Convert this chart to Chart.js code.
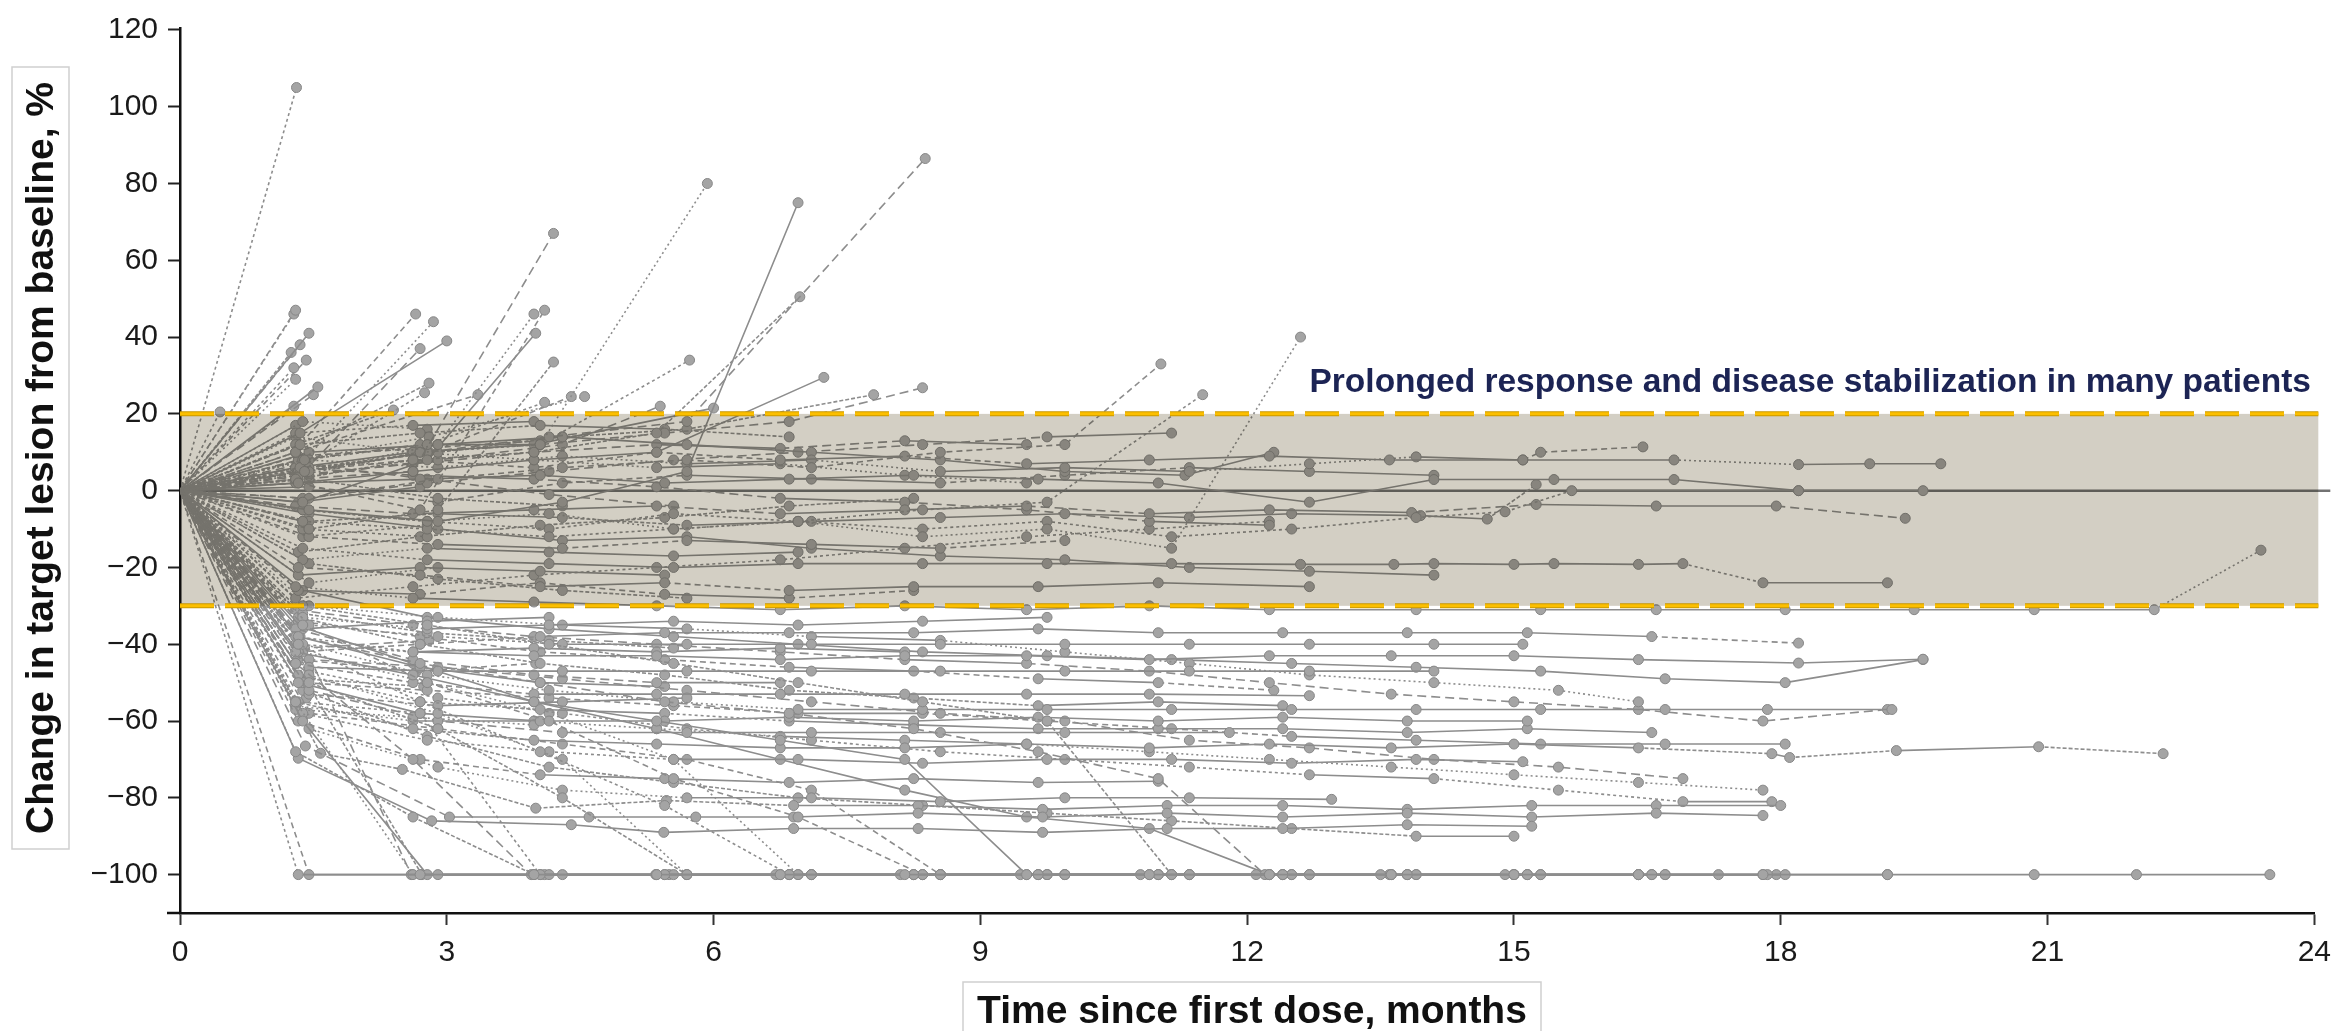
<!DOCTYPE html>
<html>
<head>
<meta charset="utf-8">
<script src="https://cdn.jsdelivr.net/npm/chart.js@4.4.1/dist/chart.umd.min.js"></script>
<style>
html, body { margin: 0; padding: 0; background: #fff; overflow: hidden; }
#wrap { width: 2341px; height: 1031px; position: relative; }
</style>
</head>
<body>
<div id="wrap"><canvas id="spider"></canvas></div>
<script>
// spider plot - change in target lesion over time, one line per patient

var xTicks = [0, 3, 6, 9, 12, 15, 18, 21, 24];
var yTicks = [-100, -80, -60, -40, -20, 0, 20, 40, 60, 80, 100, 120];
var bandLimits = [-30, 20];
var bandNote = 'Prolonged response and disease stabilization in many patients';

// [months, % change] per patient
var progressors = [
  [[0,0],[1.31,105]],
  [[0,0],[1.30,47]],
  [[0,0],[1.28,46]],
  [[0,0],[1.45,41]],
  [[0,0],[1.35,38]],
  [[0,0],[1.25,36]],
  [[0,0],[1.28,32]],
  [[0,0],[1.42,34]],
  [[0,0],[1.30,29]],
  [[0,0],[1.55,27]],
  [[0,0],[1.50,25]],
  [[0,0],[1.28,22]],
  [[0,0],[0.45,20.5]],
  [[0,0],[1.35,12],[2.65,46]],
  [[0,0],[1.40,8],[2.85,44]],
  [[0,0],[1.35,15],[3.00,39]],
  [[0,0],[1.40,5],[2.70,37]],
  [[0,0],[1.30,10],[2.80,28]],
  [[0,0],[1.35,6],[2.75,25.5]],
  [[0,0],[1.33,2],[2.70,-5],[4.10,47]],
  [[0,0],[1.45,5],[2.90,12],[3.98,46]],
  [[0,0],[1.38,-3],[2.78,8],[4.00,41]],
  [[0,0],[1.30,3],[2.62,5],[4.20,67]],
  [[0,0],[1.45,-10],[2.90,-5],[4.20,33.5]],
  [[0,0],[1.38,8],[2.78,12],[4.10,23]],
  [[0,0],[1.30,10],[3.35,25]],
  [[0,0],[1.33,4],[2.70,10],[4.05,12],[5.93,80]],
  [[0,0],[1.45,-5],[2.90,-8],[4.30,-3],[5.70,5],[6.95,75]],
  [[0,0],[1.38,5],[2.78,10],[4.15,14],[5.70,18],[8.38,86.5]],
  [[0,0],[1.30,3],[2.62,8],[3.98,10],[5.36,15],[6.97,50.5]],
  [[0,0],[1.33,5],[2.70,10],[4.05,12],[5.73,34]],
  [[0,0],[1.45,-2],[2.90,3],[4.30,6],[5.70,8],[7.10,6],[8.55,10],[9.95,12],[11.03,33]],
  [[0,0],[1.38,-5],[2.78,-8],[4.15,-6],[5.55,-10],[6.95,-8],[8.35,-12],[9.75,-10],[11.15,-15],[12.60,40]],
  [[0,0],[1.30,2],[2.62,5],[3.98,8],[5.36,10],[7.24,29.5]],
  [[0,0],[1.33,8],[2.70,12],[4.05,12],[5.45,15],[6.85,18],[8.35,26.8]],
  [[0,0],[1.45,6],[2.90,10],[4.30,14],[5.70,16],[7.80,25]],
  [[0,0],[1.38,-8],[2.78,-10],[4.15,-12],[5.55,-10],[6.95,-8],[8.35,-5],[9.75,-3],[11.50,25]],
  [[0,0],[1.40,5],[2.80,10],[4.40,24.5]],
  [[0,0],[1.35,8],[2.80,14],[4.55,24.5]],
  [[0,0],[1.30,6],[2.62,10],[3.98,12],[6.00,21.5]],
  [[0,0],[1.45,4],[2.90,8],[4.30,12],[5.40,22]],
  [[0,0],[1.30,12],[2.40,21]]
];

var stableDisease = [
  [[0,0],[1.38,-5],[2.78,-8],[4.15,-10],[5.55,-6],[6.95,-8],[8.35,-10],[9.75,-8],[11.15,-12],[12.50,-10],[13.90,-7],[14.90,-5.5],[15.65,0],[18.20,0],[19.60,0]],
  [[0,0],[1.30,5],[2.62,8],[3.98,6],[5.36,10],[6.75,8],[8.15,9],[9.52,7],[10.90,8],[12.25,9],[13.60,8],[15.10,8],[15.30,10],[16.45,11.4]],
  [[0,0],[1.45,8],[2.90,6],[4.30,9],[5.70,7],[7.10,8],[8.55,5],[9.95,6],[11.35,5],[12.70,7],[13.90,8.8],[15.10,8],[16.80,8],[18.20,6.8],[19.00,7],[19.80,7]],
  [[0,0],[1.33,2],[2.70,3],[4.05,4],[5.45,2],[6.85,3],[8.25,4],[9.65,3],[11.00,2],[12.70,-3],[14.10,2.9],[15.45,2.9],[16.80,2.9],[18.20,0]],
  [[0,0],[1.30,-4],[2.62,-6],[3.98,-5],[5.36,-4],[6.75,-6],[8.15,-5],[9.52,-4],[10.90,-6],[12.25,-5],[13.85,-5.7],[15.25,-3.6],[16.60,-4],[17.95,-4],[19.40,-7.2]],
  [[0,0],[1.45,-8],[2.90,-6],[4.30,-7],[5.70,-9],[7.10,-8],[8.55,-7],[9.95,-6],[11.35,-7],[12.50,-6],[13.95,-6.5],[14.70,-7.4],[15.25,1.6]],
  [[0,0],[1.38,-15],[2.78,-18],[4.15,-19],[5.55,-20],[6.95,-19],[8.35,-19],[9.75,-19],[11.15,-19],[12.60,-19.2],[13.65,-19.2],[14.10,-19],[15.00,-19.2],[15.45,-19],[16.40,-19.2],[16.90,-19],[17.80,-24],[19.20,-24]],
  [[0,0],[1.33,-20],[2.70,-22],[4.05,-25],[5.45,-24],[6.85,-26],[8.25,-25],[9.65,-25],[11.00,-24],[12.70,-25]],
  [[0,0],[1.30,-25],[2.62,-28],[3.98,-29],[5.36,-30],[6.75,-31],[8.15,-30],[9.52,-31],[10.90,-30],[12.25,-31],[13.90,-31],[15.30,-31],[16.60,-31],[18.05,-31],[19.50,-31],[20.85,-31],[22.20,-31],[23.40,-15.5]],
  [[0,0],[1.45,10],[2.90,12],[4.30,14],[5.70,12],[7.10,10],[8.55,8],[9.95,5],[11.30,4],[12.30,10]],
  [[0,0],[1.38,-2],[2.78,2],[4.15,5],[5.55,8],[6.95,10],[8.35,12],[9.75,14],[11.15,15]],
  [[0,0],[1.33,12],[2.70,15],[4.05,17],[5.45,16],[6.85,14]],
  [[0,0],[1.30,15],[2.62,17],[3.98,18]],
  [[0,0],[1.45,-12],[2.90,-14],[4.30,-15],[5.70,-13],[7.10,-14],[8.55,-15],[9.95,-13]],
  [[0,0],[1.38,-18],[2.78,-15],[4.15,-16],[5.55,-17],[6.95,-16]],
  [[0,0],[1.33,-22],[2.70,-20],[4.05,-21],[5.45,-22]],
  [[0,0],[1.30,6],[2.62,4],[3.98,3],[5.36,1],[6.75,-2],[8.15,-3],[9.52,-5],[10.90,-8],[12.25,-9]],
  [[0,0],[1.45,3],[2.90,-2],[4.30,-4]],
  [[0,0],[1.38,-10],[2.78,-12]],
  [[0,0],[1.33,-26],[2.70,-27],[4.05,-24],[5.45,-27],[6.85,-28],[8.25,-26]],
  [[0,0],[1.30,14],[2.62,10],[3.98,8],[5.36,6],[6.75,7],[8.15,4],[9.52,2]],
  [[0,0],[1.45,-6],[2.90,-10],[4.30,-13],[5.70,-12],[7.10,-15],[8.55,-17],[9.95,-18],[11.35,-20],[12.70,-21],[14.10,-22]],
  [[0,0],[1.38,7],[2.78,3],[4.15,-1],[5.55,-4]],
  [[0,0],[1.33,-16],[2.70,-12],[4.05,-9],[5.45,-7],[6.85,-4],[8.25,-2]],
  [[0,0],[1.30,-28],[2.62,-25],[3.98,-22],[5.36,-20],[6.75,-18],[8.15,-15],[9.52,-12],[10.90,-10],[12.25,-8]],
  [[0,0],[1.45,1],[2.90,-3],[4.30,2],[5.70,4],[7.10,3],[8.55,2],[9.95,4],[11.35,6],[12.70,5],[14.10,4]],
  [[0,0],[1.38,18],[2.78,16]],
  [[0,0],[1.33,-3],[2.70,1]],
  [[0,0],[1.30,4],[2.62,7],[3.98,10],[5.36,12],[6.75,11],[8.15,13],[9.52,12]],
  [[0,0],[1.45,-19],[2.90,-23],[4.30,-26],[5.70,-28]],
  [[0,0],[1.38,-12],[2.78,-9]],
  [[0,0],[1.33,9],[2.70,11],[4.05,13]],
  [[0,0],[1.45,-24],[2.90,-20]],
  [[0,0],[1.30,17]],
  [[0,0],[1.38,-8]]
];

var responders = [
  [[0,0],[1.30,-68],[2.62,-85],[3.98,-100],[5.36,-100],[6.75,-100],[8.15,-100],[9.52,-100],[10.90,-100],[12.25,-100],[13.62,-100],[15.00,-100],[16.40,-100],[17.80,-100],[19.20,-100],[20.85,-100],[22.00,-100],[23.50,-100]],
  [[0,0],[1.33,-100],[2.70,-100],[4.05,-100],[5.45,-100],[6.85,-100],[8.25,-100],[9.65,-100],[11.00,-100],[12.40,-100],[13.80,-100],[15.15,-100],[16.55,-100],[17.85,-100]],
  [[0,0],[1.45,-100],[2.90,-100],[4.30,-100],[5.70,-100],[7.10,-100],[8.55,-100],[9.95,-100],[11.35,-100],[12.70,-100]],
  [[0,0],[1.30,-55],[2.62,-100],[3.98,-100],[5.36,-100],[6.75,-100]],
  [[0,0],[1.38,-60],[2.78,-100],[4.15,-100],[5.55,-100],[6.95,-100],[8.35,-100],[9.75,-100],[11.15,-100],[12.50,-100],[13.90,-100],[15.30,-100],[16.70,-100],[18.05,-100]],
  [[0,0],[1.30,-45],[2.62,-70],[3.95,-100],[5.35,-100],[6.70,-100],[8.10,-100],[9.45,-100],[10.80,-100],[12.10,-100],[13.50,-100],[14.90,-100],[16.40,-100],[17.30,-100]],
  [[0,0],[1.45,-50],[2.90,-62],[4.30,-80],[5.70,-100],[7.10,-100],[8.55,-100],[9.95,-100],[11.35,-100]],
  [[0,0],[1.33,-40],[2.70,-55],[4.05,-68],[5.45,-82],[6.85,-100],[8.25,-100],[9.65,-100],[11.00,-100],[12.40,-100],[13.80,-100],[15.15,-100]],
  [[0,0],[1.38,-35],[2.78,-50],[4.15,-60],[5.55,-75],[6.95,-85],[8.35,-100],[9.75,-100],[11.15,-100],[12.50,-100],[13.90,-100],[15.30,-100],[16.70,-100]],
  [[0,0],[1.45,-48],[2.90,-58],[4.30,-70],[5.70,-100],[7.10,-100],[8.55,-100]],
  [[0,0],[1.30,-42],[2.62,-48],[3.98,-55],[5.36,-60],[6.75,-65],[8.15,-70],[9.52,-100],[10.90,-100],[12.25,-100],[13.62,-100],[15.00,-100],[16.40,-100],[17.80,-100],[19.20,-100]],
  [[0,0],[1.33,-38],[2.70,-45],[4.05,-50],[5.45,-55],[6.85,-58],[8.25,-62],[9.65,-68],[11.00,-75],[12.20,-100],[13.60,-100],[15.00,-100]],
  [[0,0],[1.38,-30],[2.78,-35],[4.15,-40],[5.55,-45],[6.95,-50],[8.35,-55],[9.75,-60],[11.15,-100]],
  [[0,0],[1.45,-35],[2.90,-38],[4.30,-40],[5.70,-40],[7.10,-40],[8.55,-40],[9.95,-40],[11.35,-40],[12.70,-40],[14.10,-40],[15.10,-40]],
  [[0,0],[1.30,-45],[2.62,-50],[3.98,-53],[5.36,-53],[6.75,-53],[8.15,-53],[9.52,-53],[10.90,-53],[12.70,-53.4]],
  [[0,0],[1.38,-40],[2.78,-48],[4.15,-52],[5.55,-55],[6.95,-57],[8.35,-57],[9.75,-57],[11.15,-57],[12.50,-57],[13.90,-57],[15.30,-57],[16.70,-57],[17.85,-57],[19.25,-57]],
  [[0,0],[1.33,-50],[2.70,-58],[4.05,-60],[5.45,-60],[6.85,-59],[8.25,-60],[9.65,-59],[11.00,-60],[12.40,-59],[13.80,-60],[15.15,-60]],
  [[0,0],[1.45,-52],[2.90,-60],[4.30,-63],[5.70,-63],[7.10,-63],[8.55,-63],[9.95,-63],[11.80,-63]],
  [[0,0],[1.30,-55],[2.62,-62],[3.98,-65],[5.36,-66],[6.75,-67],[8.15,-67],[9.52,-66],[10.90,-67],[12.25,-66],[13.62,-67],[15.00,-66],[16.40,-67],[17.90,-68.5],[18.10,-69.5],[19.30,-67.7],[20.90,-66.7],[22.30,-68.5]],
  [[0,0],[1.38,-58],[2.78,-65],[4.15,-68],[5.55,-70],[6.95,-70],[8.35,-71],[9.75,-70],[11.15,-70],[12.50,-71],[13.90,-70],[15.10,-70.6]],
  [[0,0],[1.33,-60],[2.70,-70],[4.05,-74],[5.45,-75],[6.85,-76],[8.25,-75],[9.65,-76],[11.00,-75.7]],
  [[0,0],[1.45,-62],[2.90,-72],[4.30,-78],[5.70,-80],[7.10,-80],[8.55,-81],[9.95,-80],[11.35,-80],[12.95,-80.4]],
  [[0,0],[1.33,-69.7],[2.83,-86],[4.40,-87],[5.44,-89],[6.90,-88],[8.30,-88],[9.70,-89],[11.10,-88],[12.40,-88],[13.80,-87],[15.20,-87.4]],
  [[0,0],[1.41,-66.5],[3.03,-85],[4.60,-85],[5.80,-85],[6.90,-85],[8.30,-84],[9.70,-85],[11.10,-84],[12.40,-85],[13.80,-84],[15.20,-85],[16.60,-84],[17.80,-84.6]],
  [[0,0],[1.58,-68.4],[2.50,-72.6],[4.00,-82.7],[5.47,-80.7],[6.90,-82],[8.30,-82],[9.70,-83],[11.10,-82],[12.40,-82],[13.80,-83],[15.20,-82],[16.60,-82],[18.00,-82]],
  [[0,0],[1.30,-38],[2.62,-42],[3.98,-43],[5.36,-43],[6.75,-44],[8.15,-43],[9.52,-43],[10.90,-44],[12.25,-43],[13.62,-43],[15.00,-43],[16.40,-44],[18.20,-44.9],[19.60,-43.9]],
  [[0,0],[1.33,-42],[2.70,-40],[4.05,-38],[5.45,-37],[6.85,-37],[8.25,-37],[9.65,-36],[11.00,-37],[12.40,-37],[13.80,-37],[15.15,-37],[16.55,-38],[18.20,-39.7]],
  [[0,0],[1.38,-33],[2.78,-36],[4.15,-35],[5.55,-34],[6.95,-35],[8.35,-34],[9.75,-33]],
  [[0,0],[1.45,-46],[2.90,-47],[4.30,-47],[5.70,-47],[7.10,-47],[8.55,-47],[9.95,-47],[11.35,-47],[12.70,-47],[14.10,-47]],
  [[0,0],[1.30,-36],[2.62,-44],[3.98,-48],[5.36,-50],[6.75,-50]],
  [[0,0],[1.38,-32],[2.78,-37],[4.15,-39],[5.55,-41]],
  [[0,0],[1.33,-48],[2.70,-55],[4.05,-57],[5.45,-58],[6.85,-60],[8.25,-61],[9.65,-62],[11.00,-62],[12.40,-62],[13.80,-63],[15.15,-62],[16.55,-63]],
  [[0,0],[1.45,-53],[2.90,-56],[4.30,-55],[5.70,-54]],
  [[0,0],[1.30,-57],[2.62,-59],[3.98,-61]],
  [[0,0],[1.38,-36],[2.78,-34],[4.15,-33]],
  [[0,0],[1.45,-44],[2.90,-46],[4.30,-49],[5.70,-52],[7.10,-55],[8.55,-58],[9.95,-60],[11.35,-65],[12.70,-67],[14.10,-70],[15.50,-72],[16.90,-75]],
  [[0,0],[1.33,-33],[2.70,-40],[4.05,-45],[5.45,-48],[6.85,-52],[8.25,-54],[9.65,-56],[11.00,-55],[12.40,-56]],
  [[0,0],[1.30,-40],[2.62,-42],[3.98,-41],[5.36,-42],[6.75,-41],[8.15,-42]],
  [[0,0],[1.38,-50],[2.78,-52],[4.15,-54],[5.55,-56],[6.95,-58],[8.35,-58],[9.75,-60],[11.15,-62],[12.50,-64],[13.90,-65],[15.30,-66],[16.70,-66],[18.05,-66]],
  [[0,0],[1.45,-30],[2.90,-33],[4.30,-35],[5.70,-36],[7.10,-38],[8.55,-39],[9.95,-42],[11.35,-45],[12.70,-48],[14.10,-50],[15.50,-52],[16.40,-55]],
  [[0,0],[1.33,-38],[2.70,-46],[4.05,-50],[5.45,-51]],
  [[0,0],[1.30,-31],[2.62,-35],[3.98,-38],[5.36,-40],[6.75,-42],[8.15,-44],[9.52,-45],[10.90,-47],[12.25,-50],[13.62,-53],[15.00,-55],[16.40,-57],[17.80,-60],[19.20,-57]],
  [[0,0],[1.38,-52],[2.78,-64],[4.15,-72],[5.55,-76],[6.95,-80],[8.35,-82],[9.75,-84],[11.15,-86],[12.50,-88],[13.90,-90],[15.00,-90]],
  [[0,0],[1.45,-47],[2.90,-54],[4.30,-58],[5.70,-62],[7.10,-65],[8.55,-68],[9.95,-70],[11.35,-72],[12.70,-74],[14.10,-75],[15.50,-78],[16.90,-81],[17.90,-81]],
  [[0,0],[1.33,-34],[2.70,-38],[4.05,-42],[5.45,-44],[6.85,-46],[8.25,-47],[9.65,-49],[11.00,-50],[12.30,-52]],
  [[0,0],[1.30,-56],[2.62,-60],[3.98,-60],[5.36,-62],[6.75,-64],[8.15,-65],[9.52,-66],[10.90,-68],[12.25,-70],[13.62,-72],[15.00,-74],[16.40,-76],[17.80,-78]],
  [[0,0],[1.38,-26],[2.78,-33],[4.15,-36],[5.55,-38],[6.95,-40],[8.35,-42],[9.75,-43],[11.15,-44],[12.50,-45],[13.90,-46],[15.30,-47],[16.70,-49],[18.05,-50],[19.60,-44]],
  [[0,0],[1.35,-38],[2.60,-100],[3.98,-100],[5.50,-100]],
  [[0,0],[1.30,-45],[2.72,-100],[4.10,-100]],
  [[0,0],[1.33,-55],[2.70,-58],[4.05,-100],[5.45,-100],[6.85,-100],[8.25,-100],[9.65,-100],[11.00,-100],[12.40,-100],[13.80,-100],[15.15,-100],[16.55,-100],[17.95,-100]],
  [[0,0],[1.45,-58],[2.90,-62],[4.30,-66],[5.70,-70],[7.10,-78],[8.55,-100],[9.95,-100],[11.35,-100],[12.70,-100]],
  [[0,0],[1.38,-42],[2.78,-50],[4.15,-58],[5.55,-70],[6.95,-100],[8.35,-100],[9.75,-100]],
  [[0,0],[1.30,-35],[2.62,-45],[3.98,-55],[5.36,-62],[6.75,-70],[8.15,-78],[9.52,-85],[10.90,-88],[12.25,-100],[13.62,-100],[15.00,-100],[16.40,-100]],
  [[0,0],[1.40,-41],[2.80,-39]],
  [[0,0],[1.36,-49],[2.74,-51]],
  [[0,0],[1.42,-54]],
  [[0,0],[1.32,-44],[2.66,-47],[4.00,-45]]
];

var dashes = [[3, 3], [6, 4], [2, 3], [], [9, 5], [4, 2]];
var fontFamily = '"Liberation Sans", Arial, sans-serif';

var allPatients = progressors.concat(stableDisease, responders);
var datasets = allPatients.map(function (pts, i) {
  var dash = dashes[i % dashes.length];
  return {
    data: pts.map(function (p) { return { x: p[0], y: p[1] }; }),
    showLine: true,
    borderColor: '#8d8d8d',
    borderWidth: 1.6,
    segment: {
      // flat stretches look solid in the original, sloped ones dotted/dashed
      borderDash: function (c) {
        return Math.abs(c.p0.parsed.y - c.p1.parsed.y) < 1.2 ? [] : dash;
      }
    },
    pointRadius: pts.map(function (p, j) { return j === 0 ? 0 : 5; }),
    pointBackgroundColor: '#a4a4a4',
    pointBorderColor: '#878787',
    pointBorderWidth: 1
  };
});

// zero line, shaded band, dashed limits, note and boxed titles
var spiderDecor = {
  id: 'spiderDecor',
  beforeDatasetsDraw: function (chart) {
    var ctx = chart.ctx, a = chart.chartArea, y = chart.scales.y;
    var y0 = y.getPixelForValue(0);
    ctx.save();
    ctx.strokeStyle = '#727272';
    ctx.lineWidth = 2.5;
    ctx.beginPath();
    ctx.moveTo(a.left, y0);
    ctx.lineTo(a.right + 16, y0);
    ctx.stroke();
    ctx.restore();
  },
  afterDatasetsDraw: function (chart) {
    var ctx = chart.ctx, a = chart.chartArea, x = chart.scales.x, y = chart.scales.y;
    var top = y.getPixelForValue(bandLimits[1]);
    var bot = y.getPixelForValue(bandLimits[0]);
    var right = x.getPixelForValue(24) + 4;
    ctx.save();
    ctx.globalCompositeOperation = 'multiply';
    ctx.fillStyle = '#d3cfc4';
    ctx.fillRect(a.left, top, right - a.left, bot - top);
    ctx.restore();

    ctx.save();
    ctx.setLineDash([34, 11]);
    [top, bot].forEach(function (py) {
      ctx.strokeStyle = '#c99800';
      ctx.lineWidth = 5;
      ctx.beginPath(); ctx.moveTo(a.left, py); ctx.lineTo(right, py); ctx.stroke();
      ctx.strokeStyle = '#fcbf00';
      ctx.lineWidth = 3;
      ctx.beginPath(); ctx.moveTo(a.left, py); ctx.lineTo(right, py); ctx.stroke();
    });
    ctx.restore();

    ctx.save();
    ctx.font = 'bold 33.5px ' + fontFamily;
    ctx.fillStyle = '#1c2454';
    ctx.textAlign = 'right';
    ctx.textBaseline = 'middle';
    ctx.fillText(bandNote, 2311, y.getPixelForValue(28));
    ctx.restore();
  },
  afterDraw: function (chart) {
    var ctx = chart.ctx, a = chart.chartArea;
    ctx.save();
    // x axis line runs a little past the y axis
    ctx.strokeStyle = '#111';
    ctx.lineWidth = 2.5;
    ctx.beginPath(); ctx.moveTo(167, a.bottom); ctx.lineTo(a.left, a.bottom); ctx.stroke();

    ctx.font = 'bold 39px ' + fontFamily;
    ctx.fillStyle = '#fff';
    ctx.strokeStyle = '#cfcfcf';
    ctx.lineWidth = 1.5;
    ctx.fillRect(963, 982, 578, 60);
    ctx.strokeRect(963, 982, 578, 60);
    ctx.fillStyle = '#111';
    ctx.textAlign = 'center';
    ctx.textBaseline = 'middle';
    ctx.fillText('Time since first dose, months', 1252, 1012);

    ctx.fillStyle = '#fff';
    ctx.fillRect(12, 67, 57, 782);
    ctx.strokeRect(12, 67, 57, 782);
    ctx.translate(42, 458);
    ctx.rotate(-Math.PI / 2);
    ctx.fillStyle = '#111';
    ctx.fillText('Change in target lesion from baseline, %', 0, 0);
    ctx.restore();
  }
};

new Chart('spider', {
  type: 'scatter',
  data: { datasets: datasets },
  options: {
    responsive: true,
    maintainAspectRatio: false,
    animation: false,
    layout: { padding: { top: 26, right: 24, left: 0, bottom: 0 } },
    plugins: {
      legend: { display: false },
      tooltip: { enabled: false }
    },
    scales: {
      x: {
        type: 'linear',
        min: 0,
        max: 24,
        afterFit: function (scale) { scale.height = 118; },
        afterBuildTicks: function (scale) {
          scale.ticks = xTicks.map(function (v) { return { value: v }; });
        },
        border: { color: '#111', width: 2.5 },
        grid: { drawOnChartArea: false, drawTicks: true, tickLength: 12, tickColor: '#333', tickWidth: 2 },
        ticks: { font: { family: fontFamily, size: 30 }, color: '#1a1a1a', padding: 10, maxRotation: 0 }
      },
      y: {
        type: 'linear',
        min: -110,
        max: 120.5,
        afterFit: function (scale) { scale.width = 180; },
        afterBuildTicks: function (scale) {
          scale.ticks = yTicks.map(function (v) { return { value: v }; });
        },
        border: { color: '#111', width: 2.5 },
        grid: { drawOnChartArea: false, drawTicks: true, tickLength: 12, tickColor: '#222', tickWidth: 2 },
        ticks: {
          font: { family: fontFamily, size: 30 },
          color: '#1a1a1a',
          padding: 10,
          callback: function (v) { return String(v).replace('-', '\u2212'); }
        }
      }
    }
  },
  plugins: [spiderDecor]
});
</script>
</body>
</html>
